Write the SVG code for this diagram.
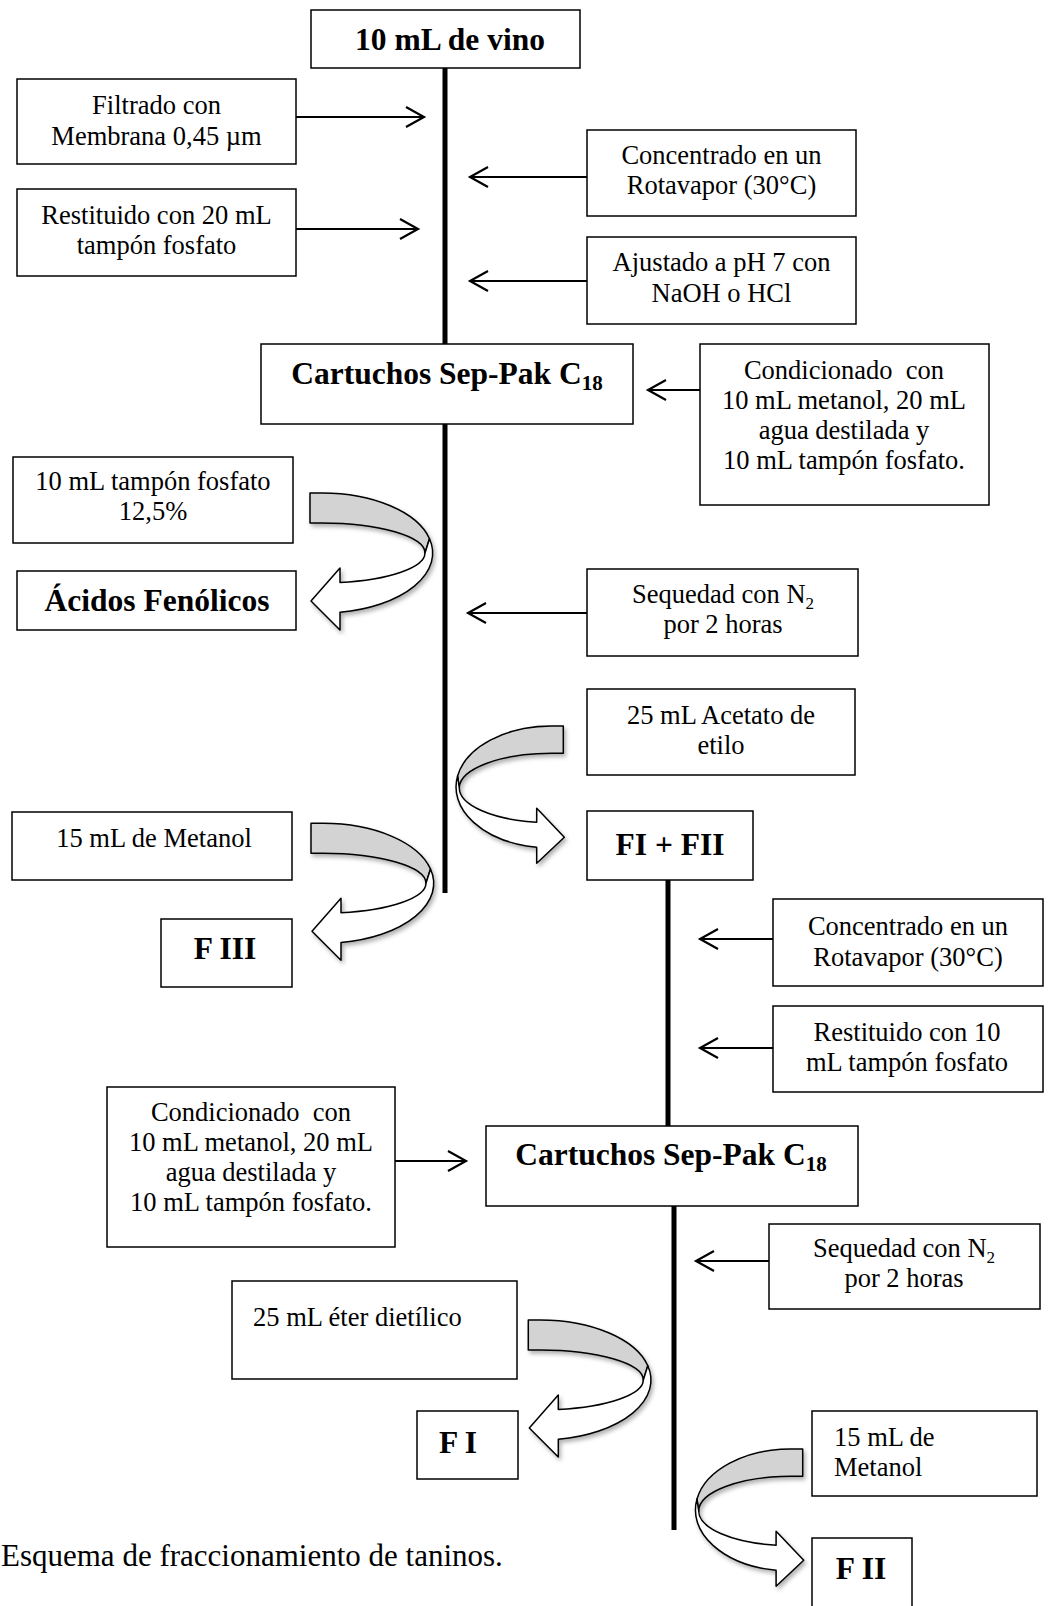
<svg xmlns="http://www.w3.org/2000/svg" width="1049" height="1606" viewBox="0 0 1049 1606">
<style>
.box{fill:#fff;stroke:#000;stroke-width:1.5}
.t{font-family:'Liberation Serif','Times New Roman',serif;font-size:26.5px;text-anchor:middle;fill:#000}
.l{text-anchor:start}
.b{font-weight:bold;font-size:31.5px}
.main{stroke:#000;stroke-width:5;fill:none}
.arr{stroke:#000;stroke-width:2;fill:none;marker-end:url(#head)}
.gray{fill:#d3d3d3;stroke:#000;stroke-width:1.5;stroke-linejoin:round}
.white{fill:#fff;stroke:#000;stroke-width:1.5;stroke-linejoin:round}
</style>
<defs>
<marker id="head" markerUnits="userSpaceOnUse" markerWidth="24" markerHeight="26" refX="20" refY="13" orient="auto">
<path d="M2,3 L20,13 L2,23" fill="none" stroke="#000" stroke-width="2.2"/>
</marker>
<filter id="sh" x="-20%" y="-20%" width="150%" height="150%">
<feDropShadow dx="2" dy="3" stdDeviation="2" flood-color="#000" flood-opacity="0.3"/>
</filter>
<g id="curveL">
<path class="gray" d="M0,0 L12,0 A110.7,60 0 0 1 119.5,45.7 L115,60 A103,30 0 0 0 12,30 L0,30 Z"/>
<path class="white" d="M119.5,45.7 A110.7,60 0 0 1 30,119.2 L30,137 L1,108 L30,75 L30,89.5 A103,30 0 0 0 115,60 Z"/>
</g>
<g id="curveR">
<path class="gray" d="M0,0 L-12,0 A95.3,61 0 0 0 -105.7,50 L-104,62 A92,34.7 0 0 1 -12,27.3 L0,27.3 Z"/>
<path class="white" d="M-105.7,50 A95.3,61 0 0 0 -26.6,121.3 L-26.6,137.3 L1,111.3 L-26.6,82.3 L-26.6,96.3 A92,34.7 0 0 1 -104,62 Z"/>
</g>
</defs>
<rect width="1049" height="1606" fill="#fff"/>

<g id="connectors">
<line class="main" x1="445" y1="68" x2="445" y2="344"/>
<line class="main" x1="445" y1="424" x2="445" y2="893"/>
<line class="main" x1="668" y1="880" x2="668" y2="1126"/>
<line class="main" x1="674" y1="1206" x2="674" y2="1530"/>
<line class="arr" x1="296" y1="117" x2="424" y2="117"/>
<line class="arr" x1="296" y1="229" x2="418" y2="229"/>
<line class="arr" x1="587" y1="177" x2="470" y2="177"/>
<line class="arr" x1="587" y1="281" x2="470" y2="281"/>
<line class="arr" x1="700" y1="390" x2="648" y2="390"/>
<line class="arr" x1="587" y1="613" x2="468" y2="613"/>
<line class="arr" x1="773" y1="939" x2="700" y2="939"/>
<line class="arr" x1="773" y1="1048" x2="700" y2="1048"/>
<line class="arr" x1="395" y1="1161" x2="466" y2="1161"/>
<line class="arr" x1="769" y1="1261" x2="696" y2="1261"/>
<use href="#curveL" transform="translate(310,493)" filter="url(#sh)"/>
<use href="#curveR" transform="translate(563.3,726)" filter="url(#sh)"/>
<use href="#curveL" transform="translate(311,823.3)" filter="url(#sh)"/>
<use href="#curveL" transform="translate(528.3,1320)" filter="url(#sh)"/>
<use href="#curveR" transform="translate(802.7,1449)" filter="url(#sh)"/>
</g>

<g id="n-vino"><rect class="box" x="311" y="10" width="269" height="58"/><text class="t b" x="450" y="50">10 mL de vino</text></g>
<g id="n-filtrado"><rect class="box" x="17" y="79" width="279" height="85"/><text class="t" x="156.5" y="114">Filtrado con</text><text class="t" x="156.5" y="145">Membrana 0,45 µm</text></g>
<g id="n-restituido1"><rect class="box" x="17" y="189" width="279" height="87"/><text class="t" x="156.5" y="224">Restituido con 20 mL</text><text class="t" x="156.5" y="254">tampón fosfato</text></g>
<g id="n-concentrado1"><rect class="box" x="587" y="130" width="269" height="86"/><text class="t" x="721.5" y="164">Concentrado en un</text><text class="t" x="721.5" y="194">Rotavapor (30°C)</text></g>
<g id="n-ajustado"><rect class="box" x="587" y="237" width="269" height="87"/><text class="t" x="721.5" y="271">Ajustado a pH 7 con</text><text class="t" x="721.5" y="302">NaOH o HCl</text></g>
<g id="n-cartuchos1"><rect class="box" x="261" y="344" width="372" height="80"/><text class="t b" x="447" y="384">Cartuchos Sep-Pak C<tspan font-size="21" dy="6">18</tspan></text></g>
<g id="n-condicionado1"><rect class="box" x="700" y="344" width="289" height="161"/><text class="t" x="844" y="379" style="white-space:pre">Condicionado  con</text><text class="t" x="844" y="409">10 mL metanol, 20 mL</text><text class="t" x="844" y="439">agua destilada y</text><text class="t" x="844" y="469">10 mL tampón fosfato.</text></g>
<g id="n-tampon125"><rect class="box" x="13" y="457" width="280" height="86"/><text class="t" x="153" y="490">10 mL tampón fosfato</text><text class="t" x="153" y="520">12,5%</text></g>
<g id="n-acidos"><rect class="box" x="17" y="571" width="279" height="59"/><text class="t b" x="157" y="611">Ácidos Fenólicos</text></g>
<g id="n-sequedad1"><rect class="box" x="587" y="569" width="271" height="87"/><text class="t" x="723" y="603">Sequedad con N<tspan font-size="17" dy="6">2</tspan></text><text class="t" x="723" y="633">por 2 horas</text></g>
<g id="n-acetato"><rect class="box" x="587" y="689" width="268" height="86"/><text class="t" x="721" y="724">25 mL Acetato de</text><text class="t" x="721" y="754">etilo</text></g>
<g id="n-metanol1"><rect class="box" x="12" y="812" width="280" height="68"/><text class="t" x="154" y="847">15 mL de Metanol</text></g>
<g id="n-fi-fii"><rect class="box" x="587" y="811" width="166" height="69"/><text class="t b" x="670" y="855">FI + FII</text></g>
<g id="n-f3"><rect class="box" x="161" y="919" width="131" height="68"/><text class="t b" x="225" y="959">F III</text></g>
<g id="n-concentrado2"><rect class="box" x="773" y="899" width="270" height="87"/><text class="t" x="908" y="935">Concentrado en un</text><text class="t" x="908" y="966">Rotavapor (30°C)</text></g>
<g id="n-restituido2"><rect class="box" x="773" y="1006" width="270" height="86"/><text class="t" x="907" y="1041">Restituido con 10</text><text class="t" x="907" y="1071">mL tampón fosfato</text></g>
<g id="n-condicionado2"><rect class="box" x="107" y="1087" width="288" height="160"/><text class="t" x="251" y="1121" style="white-space:pre">Condicionado  con</text><text class="t" x="251" y="1151">10 mL metanol, 20 mL</text><text class="t" x="251" y="1181">agua destilada y</text><text class="t" x="251" y="1211">10 mL tampón fosfato.</text></g>
<g id="n-cartuchos2"><rect class="box" x="486" y="1126" width="372" height="80"/><text class="t b" x="671" y="1165">Cartuchos Sep-Pak C<tspan font-size="21" dy="6">18</tspan></text></g>
<g id="n-sequedad2"><rect class="box" x="769" y="1224" width="271" height="85"/><text class="t" x="904" y="1257">Sequedad con N<tspan font-size="17" dy="6">2</tspan></text><text class="t" x="904" y="1287">por 2 horas</text></g>
<g id="n-eter"><rect class="box" x="232" y="1281" width="285" height="98"/><text class="t l" x="253" y="1326">25 mL éter dietílico</text></g>
<g id="n-f1"><rect class="box" x="417" y="1411" width="101" height="68"/><text class="t b" x="458" y="1453">F I</text></g>
<g id="n-metanol2"><rect class="box" x="812" y="1411" width="225" height="85"/><text class="t l" x="834" y="1446">15 mL de</text><text class="t l" x="834" y="1476">Metanol</text></g>
<g id="n-f2"><rect class="box" x="812" y="1538" width="100" height="90"/><text class="t b" x="861" y="1579">F II</text></g>
<text class="t l" x="1" y="1566" style="font-size:31px">Esquema de fraccionamiento de taninos.</text>
</svg>
